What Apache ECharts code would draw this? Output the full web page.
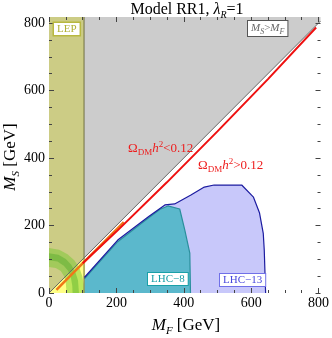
<!DOCTYPE html>
<html>
<head>
<meta charset="utf-8">
<script src="https://cdn.jsdelivr.net/npm/echarts@6/dist/echarts.min.js"></script>
<style>
html, body { margin: 0; padding: 0; background: #fff; }
#chart { width: 332px; height: 338px; }
</style>
</head>
<body>
<div id="chart"></div>
<script>
var xMax = 806, yMax = 818;
var majorTicks = [0, 200, 400, 600, 800];
var minorTicks = [50, 100, 150, 250, 300, 350, 450, 500, 550, 650, 700, 750];

// regions, [M_F, M_S] in GeV
var lepBand = [[0, 0], [104, 0], [104, 818], [0, 818]];
var lepEdge = [[104, 0], [104, 818]];
var msAboveMf = [[0, 0], [806, 806], [806, 818], [0, 818]];
var diagonal = [[0, 0], [806, 806]];
var lowStrip = [[0, 0], [107, 107], [107, 0]];
var greenOuterArc = [[0, 133], [30, 128], [55, 115], [75, 97], [90, 75], [99, 50], [103, 25], [104, 0]];
var greenInnerArc = [[0, 77], [20, 74], [35, 65], [45, 50], [50, 30], [52, 0]];
var greenMidOuter = [[0, 118], [28, 113], [50, 101], [66, 84], [78, 62], [86, 38], [89, 0]];
var greenMidInner = [[0, 97], [25, 93], [44, 81], [57, 65], [65, 45], [69, 22], [70, 0]];
var orangeBranch = [[22, 9], [105, 93], [222, 210]];
var relicLine = [[100, 88], [200, 182], [350, 328], [500, 479], [650, 634], [793, 787]];
var lhc8 = [[105, 0], [105, 42], [204, 152], [295, 222], [330, 248], [353, 258], [388, 249], [403, 187], [418, 118], [420, 0]];
var lhc13 = [[105, 0], [105, 46], [204, 157], [295, 226], [344, 261], [373, 264], [420, 290], [461, 314], [490, 320], [572, 320], [607, 284], [625, 237], [636, 177], [639, 127], [643, 0]];

var serif = 'Liberation Serif';

function polygon(pts, fill, z) {
    return {
        type: 'custom', coordinateSystem: 'cartesian2d', z: z, silent: true,
        data: pts, encode: {x: 0, y: 1},
        renderItem: function (params, api) {
            if (params.dataIndex !== 0) return null;
            return {
                type: 'polygon',
                shape: {points: pts.map(function (p) { return api.coord(p); })},
                style: {fill: fill}
            };
        }
    };
}

function band(outer, inner, fill, z) {
    return polygon(outer.concat(inner.slice().reverse()), fill, z);
}

function line(pts, color, width, z) {
    return {
        type: 'line', data: pts, z: z, silent: true,
        showSymbol: false, symbol: 'none', animation: false,
        lineStyle: {color: color, width: width}
    };
}

function axis(pos, ticks, len, label) {
    var isX = pos === 'bottom' || pos === 'top';
    return {
        type: 'value', min: 0, max: isX ? xMax : yMax, interval: 200,
        position: pos, z: 10,
        axisLine: {show: false, onZero: false},
        splitLine: {show: false},
        axisTick: {show: true, inside: true, length: len, customValues: ticks,
            lineStyle: {color: '#444', width: 1}},
        axisLabel: {show: label, customValues: ticks, fontFamily: serif, fontSize: 14,
            color: '#000', margin: isX ? 3 : 4}
    };
}

function richSet(size, subSize, color) {
    return {
        n: {fontSize: size, lineHeight: size + 4, fontFamily: serif, fill: color},
        i: {fontSize: size, lineHeight: size + 4, fontFamily: serif, fontStyle: 'italic', fill: color},
        s: {fontSize: subSize, lineHeight: subSize, verticalAlign: 'bottom', fontFamily: serif, fontStyle: 'italic', fill: color},
        d: {fontSize: subSize, lineHeight: subSize, verticalAlign: 'bottom', fontFamily: serif, fill: color},
        p: {fontSize: subSize, lineHeight: subSize, verticalAlign: 'top', fontFamily: serif, fill: color}
    };
}

var option = {
    animation: false,
    grid: {left: 49, right: 7, top: 17, bottom: 45},
    xAxis: [
        axis('bottom', majorTicks, 5, true),
        axis('bottom', minorTicks, 3, false),
        axis('top', majorTicks, 5, false),
        axis('top', minorTicks, 3, false)
    ],
    yAxis: [
        axis('left', majorTicks, 5, true),
        axis('left', minorTicks, 3, false),
        axis('right', majorTicks, 5, false),
        axis('right', minorTicks, 3, false)
    ],
    series: [
        polygon(msAboveMf, '#cccccc', 2),
        polygon(lepBand, '#cccc85', 3),
        polygon(lowStrip, '#ffff85', 4),
        band(greenOuterArc, greenInnerArc, 'rgba(110,200,40,0.45)', 5),
        band(greenMidOuter, greenMidInner, 'rgba(60,160,30,0.35)', 5),
        line(lepEdge, '#6f6f40', 1, 6),
        polygon(lhc13, '#c8c8fa', 3),
        polygon(lhc8, '#5bb8cc', 4),
        line(lhc8.slice(1), '#2a8f9c', 1.2, 5),
        line(lhc13.slice(1), '#1c1ca0', 1.2, 6),
        line(diagonal, '#666666', 1, 6),
        line(orangeBranch, '#f07818', 2.5, 7),
        line(relicLine, '#ee1111', 2, 8)
    ],
    graphic: [
        {type: 'text', x: 187, y: 0, z: 100, style: {
            text: '{n|Model RR1, }{i|λ}{s|R}{n|=1}', align: 'center', verticalAlign: 'top',
            rich: richSet(16, 10, '#000')}},
        {type: 'text', x: 186, y: 326, z: 100, style: {
            text: '{i|M}{s|F}{n| [GeV]}', align: 'center', verticalAlign: 'middle',
            rich: richSet(17, 11, '#000')}},
        {type: 'text', x: 11, y: 157, rotation: Math.PI / 2, z: 100, style: {
            text: '{i|M}{s|S}{n| [GeV]}', align: 'center', verticalAlign: 'middle',
            rich: richSet(17, 11, '#000')}},
        {type: 'text', x: 54, y: 23, z: 100, style: {
            text: 'LEP', fontSize: 11, fontFamily: serif, fill: '#b0b035',
            backgroundColor: '#ffffff', borderColor: '#b8b840', borderWidth: 1.5, padding: [1, 3, 0, 3]}},
        {type: 'text', x: 248, y: 21, z: 100, style: {
            text: '{i|M}{s|S}{n|>}{i|M}{s|F}',
            backgroundColor: '#ffffff', borderColor: '#555555', borderWidth: 1, padding: [0, 3, 0, 3],
            rich: richSet(11, 8, '#666')}},
        {type: 'text', x: 128, y: 140, z: 100, style: {
            text: '{n|Ω}{d|DM}{i|h}{p|2}{n|<0.12}',
            rich: richSet(13, 9, '#ee1c1c')}},
        {type: 'text', x: 198, y: 157, z: 100, style: {
            text: '{n|Ω}{d|DM}{i|h}{p|2}{n|>0.12}',
            rich: richSet(13, 9, '#ee1c1c')}},
        {type: 'text', x: 148, y: 273, z: 100, style: {
            text: 'LHC−8', fontSize: 11, fontFamily: serif, fill: '#1aa0a8',
            backgroundColor: '#ffffff', borderColor: '#1aa0a8', borderWidth: 1, padding: [1, 3, 0, 3]}},
        {type: 'text', x: 220, y: 274, z: 100, style: {
            text: 'LHC−13', fontSize: 11, fontFamily: serif, fill: '#4848dd',
            backgroundColor: '#ffffff', borderColor: '#7070e8', borderWidth: 1, padding: [1, 3, 0, 3]}}
    ]
};

var chart = echarts.init(document.getElementById('chart'));
chart.setOption(option);
</script>
</body>
</html>
